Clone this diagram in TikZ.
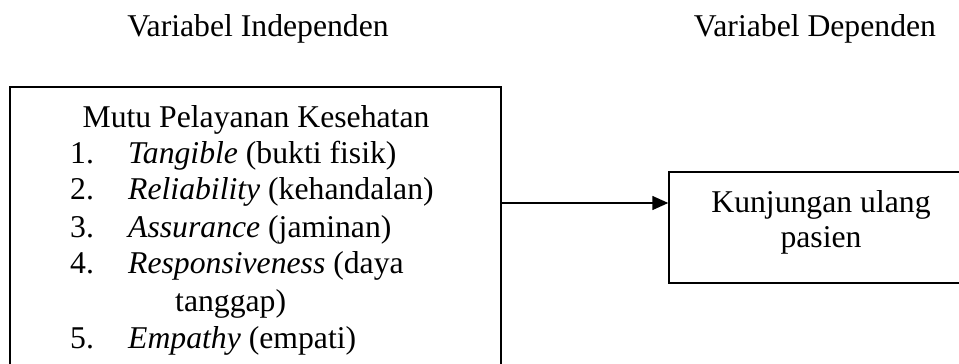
\documentclass[tikz,border=0pt]{standalone}
\usepackage{fontspec}
\setmainfont{Liberation Serif}
\usetikzlibrary{arrows.meta}
\begin{document}
\begin{tikzpicture}[x=1pt,y=-1pt,
  txt/.style={inner sep=0pt,font=\fontsize{31.7}{36}\selectfont},
  frame/.style={draw,line width=1.4pt,inner sep=0pt},
  conn/.style={line width=1.4pt,-{Triangle[length=16pt,width=14pt]}}]
\useasboundingbox (0,0) rectangle (959,364);
\clip (0,0) rectangle (959,364);
\node[frame,minimum width=491pt,minimum height=300pt] (left) at (255.5,237) {};
\node[frame,minimum width=304pt,minimum height=111pt] (right) at (821,227.5) {};
\node[txt,anchor=base] (h1) at (258,36) {Variabel Independen};
\node[txt,anchor=base] (h2) at (815,36) {Variabel Dependen};
\node[txt,anchor=base] (title) at (256,127) {Mutu Pelayanan Kesehatan};
\node[txt,anchor=base west] (n1) at (70,163) {1.};
\node[txt,anchor=base west] (i1) at (128,163) {\textit{Tangible} (bukti fisik)};
\node[txt,anchor=base west] (n2) at (70,199) {2.};
\node[txt,anchor=base west] (i2) at (128,199) {\textit{Reliability} (kehandalan)};
\node[txt,anchor=base west] (n3) at (70,237) {3.};
\node[txt,anchor=base west] (i3) at (128,237) {\textit{Assurance} (jaminan)};
\node[txt,anchor=base west] (n4) at (70,273) {4.};
\node[txt,anchor=base west] (i4) at (128,273) {\textit{Responsiveness} (daya};
\node[txt,anchor=base west] (i4b) at (175,311) {tanggap)};
\node[txt,anchor=base west] (n5) at (70,348) {5.};
\node[txt,anchor=base west] (i5) at (128,348) {\textit{Empathy} (empati)};
\node[txt,anchor=base] (r1) at (821,212) {Kunjungan ulang};
\node[txt,anchor=base] (r2) at (821,247) {pasien};
\coordinate (ay) at (0,203);
\draw[conn] (left.east |- ay) -- (right.west |- ay);
\end{tikzpicture}
\end{document}
